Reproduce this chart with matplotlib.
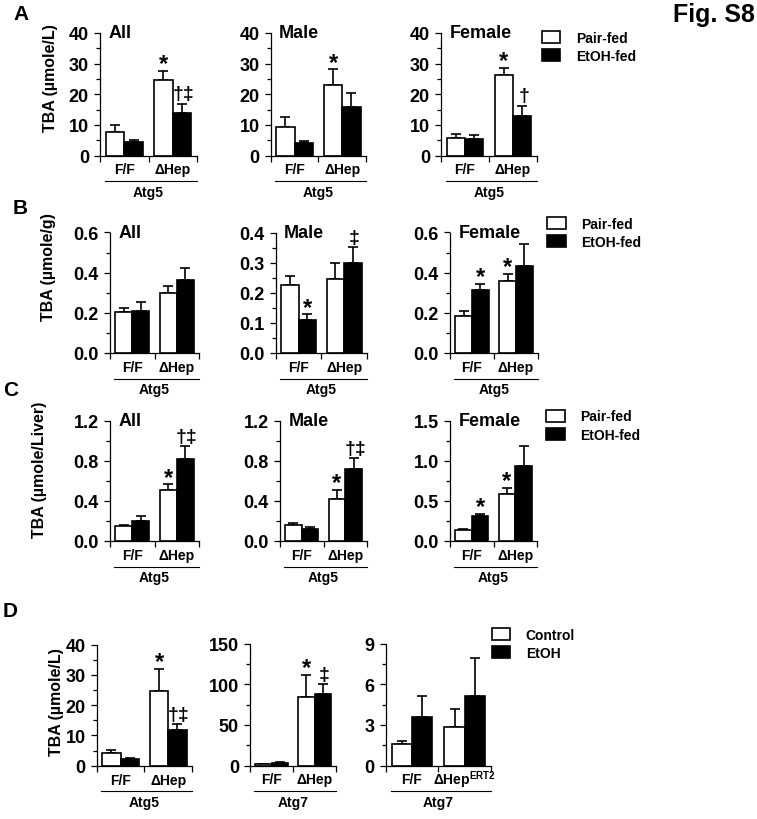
import matplotlib
matplotlib.use('Agg')
import matplotlib.pyplot as plt
import matplotlib.transforms as mtransforms
from matplotlib.lines import Line2D
from matplotlib.patches import Patch
from matplotlib.ticker import MultipleLocator, FormatStrFormatter

plt.rcParams['font.family'] = ['Liberation Sans', 'DejaVu Sans']
plt.rcParams['font.weight'] = 'bold'
plt.rcParams['mathtext.fontset'] = 'custom'
plt.rcParams['mathtext.rm'] = 'Liberation Sans:bold'
plt.rcParams['mathtext.bf'] = 'Liberation Sans:bold'

# ---- data: [white series, black series] x [F/F, ΔHep] ----
groups = ['F/F', '\u0394Hep']
groups_ert2 = ['F/F', '\u0394Hep$^{\\mathbf{ERT2}}$']

a_all_mean = [[7.7, 24.6], [4.4, 14.0]]
a_all_err = [[2.2, 3.1], [0.6, 2.9]]
a_male_mean = [[9.3, 23.1], [4.1, 15.8]]
a_male_err = [[3.2, 5.0], [0.5, 4.6]]
a_female_mean = [[5.7, 26.3], [5.4, 12.8]]
a_female_err = [[1.4, 2.3], [1.4, 3.5]]

b_all_mean = [[0.205, 0.30], [0.21, 0.365]]
b_all_err = [[0.02, 0.035], [0.045, 0.06]]
b_male_mean = [[0.225, 0.247], [0.111, 0.30]]
b_male_err = [[0.03, 0.052], [0.017, 0.052]]
b_female_mean = [[0.182, 0.358], [0.312, 0.433]]
b_female_err = [[0.025, 0.037], [0.03, 0.112]]

c_all_mean = [[0.145, 0.505], [0.20, 0.82]]
c_all_err = [[0.01, 0.06], [0.045, 0.125]]
c_male_mean = [[0.164, 0.416], [0.115, 0.72]]
c_male_err = [[0.016, 0.092], [0.023, 0.106]]
c_female_mean = [[0.133, 0.588], [0.31, 0.94]]
c_female_err = [[0.012, 0.071], [0.03, 0.24]]

d_atg5_mean = [[4.1, 24.8], [2.2, 11.8]]
d_atg5_err = [[1.2, 7.2], [0.2, 2.0]]
d_atg7_mean = [[1.6, 84.0], [3.5, 88.0]]
d_atg7_err = [[0.4, 27.6], [0.5, 12.0]]
d_ert2_mean = [[1.58, 2.86], [3.55, 5.13]]
d_ert2_err = [[0.22, 1.34], [1.6, 2.83]]

W, H = 757, 820
fig = plt.figure(figsize=(W / 100, H / 100), dpi=100)

centers = [1.3, 3.9]


def px_axes(left, right, top, bottom):
    return fig.add_axes([left / W, 1 - bottom / H, (right - left) / W, (bottom - top) / H])


def panel(box, means, errs, ymax, major, minor, fmt, title, labels, gene, marks):
    ax = px_axes(*box)
    colors = ['white', 'black']
    for s in range(2):
        xs = [c + (s - 0.5) for c in centers]
        ax.bar(xs, means[s], width=1.0, color=colors[s], edgecolor='black', linewidth=1.2,
               zorder=2)
        ax.errorbar(xs, means[s], yerr=[[0, 0], errs[s]], fmt='none', ecolor='black',
                    elinewidth=1.2, capsize=3.5, capthick=1.2, zorder=1)
    ax.set_xlim(0, 5.2)
    ax.set_ylim(0, ymax)
    for sp in ['top', 'right']:
        ax.spines[sp].set_visible(False)
    for sp in ['left', 'bottom']:
        ax.spines[sp].set_linewidth(0.9)
    ax.yaxis.set_major_locator(MultipleLocator(major))
    ax.yaxis.set_minor_locator(MultipleLocator(minor))
    ax.yaxis.set_major_formatter(FormatStrFormatter(fmt))
    ax.set_xticks([0, 2.6, 5.2])
    ax.set_xticklabels([])
    ax.tick_params(axis='both', which='major', direction='out', length=4, width=0.9,
                   labelsize=13, pad=4)
    ax.tick_params(axis='y', which='minor', direction='out', length=3, width=0.9)
    ax.tick_params(axis='x', which='minor', length=0)

    below = lambda pts: mtransforms.offset_copy(ax.get_xaxis_transform(), fig=fig,
                                                y=-pts, units='points')
    for c, lab in zip(centers, labels):
        ax.text(c, 0, lab, transform=below(10), ha='center', va='center', fontsize=10)
    ax.add_line(Line2D([0.05, 1.0], [0, 0], transform=mtransforms.offset_copy(
        ax.transAxes, fig=fig, y=-18.5, units='points'), color='black', lw=0.8, clip_on=False))
    ax.text(2.6, 0, gene, transform=below(26), ha='center', va='center', fontsize=10)

    ax.text(0, 1, title, transform=mtransforms.offset_copy(ax.transAxes, fig=fig, x=6,
            y=0, units='points'), ha='left', va='center', fontsize=13)

    for s, g, txt in marks:
        x = centers[g] + (s - 0.5)
        y = means[s][g] + errs[s][g]
        if txt == '*':
            ax.annotate(txt, (x, y), xytext=(0, -3), textcoords='offset points',
                        ha='center', va='bottom', fontsize=17)
        else:
            ax.annotate(txt, (x, y), xytext=(1, 1), textcoords='offset points',
                        ha='center', va='bottom', fontsize=14)
    return ax


# row A
panel((100, 197, 34, 156.5), a_all_mean, a_all_err, 40, 10, 5, '%d', 'All', groups, 'Atg5',
      [(0, 1, '*'), (1, 1, '\u2020\u2021')])
panel((270.7, 366, 34, 156.5), a_male_mean, a_male_err, 40, 10, 5, '%d', 'Male', groups, 'Atg5',
      [(0, 1, '*')])
panel((441, 537, 34, 156.5), a_female_mean, a_female_err, 40, 10, 5, '%d', 'Female', groups,
      'Atg5', [(0, 1, '*'), (1, 1, '\u2020')])

# row B
panel((110, 199, 233.5, 354), b_all_mean, b_all_err, 0.6, 0.2, 0.1, '%.1f', 'All', groups,
      'Atg5', [])
panel((275.7, 367, 233.5, 354), b_male_mean, b_male_err, 0.4, 0.1, 0.05, '%.1f', 'Male', groups,
      'Atg5', [(1, 0, '*'), (1, 1, '\u2021')])
panel((450, 538, 233.5, 354), b_female_mean, b_female_err, 0.6, 0.2, 0.1, '%.1f', 'Female',
      groups, 'Atg5', [(1, 0, '*'), (0, 1, '*')])

# row C
panel((110, 199, 421.7, 542), c_all_mean, c_all_err, 1.2, 0.4, 0.2, '%.1f', 'All', groups,
      'Atg5', [(0, 1, '*'), (1, 1, '\u2020\u2021')])
panel((280, 367, 421.7, 542), c_male_mean, c_male_err, 1.2, 0.4, 0.2, '%.1f', 'Male', groups,
      'Atg5', [(0, 1, '*'), (1, 1, '\u2020\u2021')])
panel((450, 537, 421.7, 542), c_female_mean, c_female_err, 1.5, 0.5, 0.25, '%.1f', 'Female',
      groups, 'Atg5', [(1, 0, '*'), (0, 1, '*')])

# row D
panel((96.7, 192, 645.7, 766.7), d_atg5_mean, d_atg5_err, 40, 10, 5, '%d', '', groups, 'Atg5',
      [(0, 1, '*'), (1, 1, '\u2020\u2021')])
panel((250, 336, 644.5, 766.5), d_atg7_mean, d_atg7_err, 150, 50, 25, '%d', '', groups, 'Atg7',
      [(0, 1, '*'), (1, 1, '\u2021')])
panel((385.7, 491, 644.5, 766.5), d_ert2_mean, d_ert2_err, 9, 3, 1.5, '%d', '', groups_ert2,
      'Atg7', [])

# y labels
for (x, y), lab in zip([(51, 78), (49, 267), (40, 470), (57, 702)],
                       ['TBA (\u00b5mole/L)', 'TBA (\u00b5mole/g)',
                        'TBA (\u00b5mole/Liver)', 'TBA (\u00b5mole/L)']):
    fig.text(x / W, 1 - y / H, lab, rotation=90, ha='center', va='center', fontsize=11.5)

# panel letters
for (x, y), lab in zip([(13, 15), (13, 208.5), (3, 391), (3, 612)], ['A', 'B', 'C', 'D']):
    fig.text(x / W, 1 - y / H, lab, ha='left', va='center', fontsize=15)
fig.text(755 / W, 1 - 15 / H, 'Fig. S8', ha='right', va='center', fontsize=18)

# legends
handles = [Patch(facecolor='white', edgecolor='black', linewidth=1.2),
           Patch(facecolor='black', edgecolor='black', linewidth=1.2)]
for (x, y), labs in zip([(541.7, 32), (547, 218), (546, 410.5), (491.7, 629)],
                        [['Pair-fed', 'EtOH-fed']] * 3 + [['Control', 'EtOH']]):
    fig.legend(handles, labs, loc='upper left', bbox_to_anchor=(x / W, 1 - y / H),
               frameon=False, borderpad=0, handlelength=1.35, handleheight=0.95,
               handletextpad=1.1, labelspacing=0.3, fontsize=10, borderaxespad=0)

fig.savefig('out.png', dpi=100)
